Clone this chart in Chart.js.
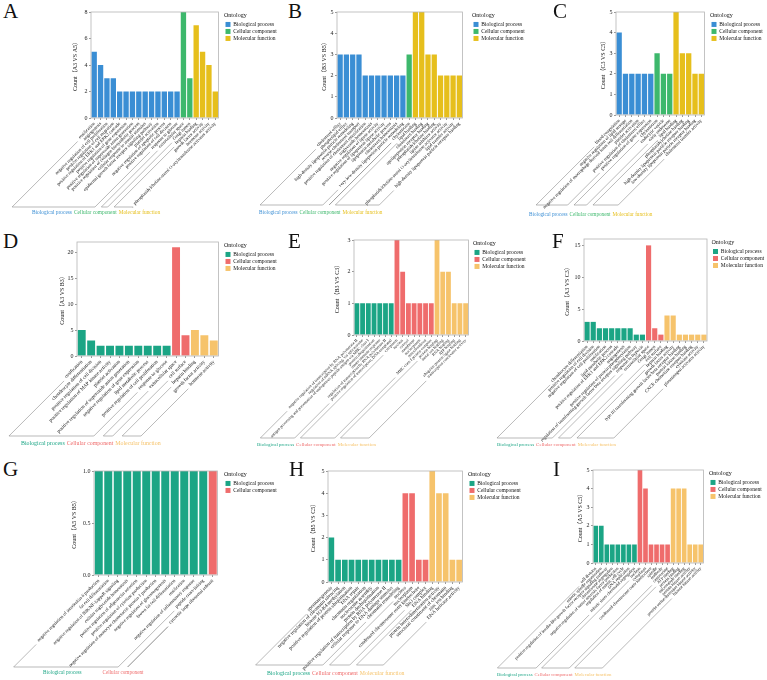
<!DOCTYPE html>
<html>
<head>
<meta charset="utf-8">
<script src="https://cdn.jsdelivr.net/npm/chart.js@4.4.1/dist/chart.umd.min.js"></script>
<style>
  body { margin: 0; background: #fff; width: 767px; height: 680px; position: relative; overflow: hidden; }
  canvas { position: absolute; }
  .tag { position: absolute; font: 21px "Liberation Serif", "Times New Roman", serif; line-height: 1; color: #111; }
</style>
</head>
<body>
<script>
// ---- data (counts) ----
const A_BP = [5, 4, 3, 3, 2, 2, 2, 2, 2, 2, 2, 2, 2, 2];
const A_CC = [8, 3];
const A_MF = [7, 5, 4, 2];
const A_BP_TERMS = ['ossification', 'angiogenesis', 'negative regulation of cell proliferation', 'positive regulation of cell migration', 'positive regulation of ERK1 and ERK2 cascade', 'positive regulation of gene expression', 'positive regulation of superoxide anion generation', 'positive regulation of collagen biosynthetic process', 'cellular response to insulin stimulus', 'epidermal growth factor receptor signaling pathway', 'platelet activation', 'negative regulation of apoptotic process', 'positive regulation of cell division', 'response to glucose'];
const A_CC_TERMS = ['extracellular space', 'Golgi lumen'];
const A_MF_TERMS = ['heparin binding', 'growth factor activity', 'hormone activity', 'phosphatidylcholine-sterol O-acyltransferase activator activity'];

const B_BP = [3, 3, 3, 3, 2, 2, 2, 2, 2, 2, 2];
const B_CC = [3];
const B_MF = [5, 5, 3, 3, 2, 2, 2, 2];
const B_BP_TERMS = ['cholesterol efflux', 'phospholipid efflux', 'high-density lipoprotein particle remodeling', 'reverse cholesterol transport', 'positive regulation of cholesterol esterification', 'triglyceride homeostasis', 'negative regulation of lipase activity', 'positive regulation of lipoprotein lipase activity', 'lipoprotein metabolic process', 'cholesterol homeostasis', 'very-low-density lipoprotein particle remodeling'];
const B_CC_TERMS = ['chylomicron'];
const B_MF_TERMS = ['lipid binding', 'cholesterol binding', 'apolipoprotein receptor binding', 'phosphatidylcholine binding', 'lipase inhibitor activity', 'phosphatidylcholine-sterol O-acyltransferase activator activity', 'lipid transfer activity', 'high-density lipoprotein particle receptor binding'];

const C_BP = [4, 2, 2, 2, 2, 2];
const C_CC = [3, 2, 2];
const C_MF = [5, 3, 3, 2, 2];
const C_BP_TERMS = ['blood coagulation', 'negative regulation of lipid storage', 'negative regulation of macrophage derived foam cell differentiation', 'platelet activation', 'positive regulation of cholesterol efflux', 'positive regulation of gene expression'];
const C_CC_TERMS = ['chylomicron', 'endocytic vesicle', 'early endosome'];
const C_MF_TERMS = ['lipid binding', 'phosphatidylcholine binding', 'high-density lipoprotein particle receptor binding', 'low-density lipoprotein particle receptor binding', 'cholesterol transfer activity'];

const D_BP = [5, 3, 2, 2, 2, 2, 2, 2, 2, 2];
const D_CC = [21, 4];
const D_MF = [5, 4, 3];
const D_BP_TERMS = ['ossification', 'chondrocyte differentiation', 'positive regulation of cell division', 'positive regulation of MAP kinase activity', 'platelet activation', 'positive regulation of superoxide anion generation', 'negative regulation of gene expression', 'lipid metabolic process', 'positive regulation of cell proliferation', 'response to glucose'];
const D_CC_TERMS = ['extracellular space', 'cell surface'];
const D_MF_TERMS = ['heparin binding', 'growth factor activity', 'hormone activity'];

const E_BP = [1, 1, 1, 1, 1, 1, 1];
const E_CC = [3, 2, 1, 1, 1, 1, 1];
const E_MF = [3, 2, 2, 1, 1, 1];
const E_BP_TERMS = ['negative regulation of transcription by RNA polymerase II', 'regulation of mRNA splicing, via spliceosome', 'antigen processing and presentation of endogenous peptide antigen via MHC class I', 'protein ubiquitination', 'innate immune response', 'regulation of transcription by RNA polymerase II', 'positive regulation of transcription, DNA-templated'];
const E_CC_TERMS = ['cytoplasm', 'nucleus', 'cytosol', 'membrane', 'nucleoplasm', 'mitochondrion', 'MHC class I protein complex'];
const E_MF_TERMS = ['protein binding', 'metal ion binding', 'RNA binding', 'ATP binding', 'ubiquitin protein ligase binding', 'transcription coactivator activity'];

const F_BP = [3, 3, 2, 2, 2, 2, 2, 2, 1, 1];
const F_CC = [15, 2, 1];
const F_MF = [4, 4, 1, 1, 1, 1, 1];
const F_BP_TERMS = ['chondrocyte differentiation', 'positive regulation of cell division', 'negative regulation of cell proliferation', 'ossification', 'lipid metabolic process', 'positive regulation of ERK1 and ERK2 cascade', 'angiogenesis', 'positive regulation of protein phosphorylation', 'regulation of transforming growth factor beta receptor signaling pathway', 'response to hypoxia'];
const F_CC_TERMS = ['extracellular space', 'Golgi lumen', 'cell surface'];
const F_MF_TERMS = ['heparin binding', 'growth factor activity', 'type III transforming growth factor beta receptor binding', 'protein kinase binding', 'CXCR chemokine receptor binding', 'cytokine activity', 'plasminogen activator activity'];

const G_BP = [1, 1, 1, 1, 1, 1, 1, 1, 1, 1, 1, 1];
const G_CC = [1];
const G_MF = [];
const G_BP_TERMS = ['negative regulation of interleukin-6 production', 'fat cell differentiation', 'negative regulation of NIK/NF-kappaB signaling', 'cellular triglyceride homeostasis', 'positive regulation of adiponectin secretion', 'positive regulation of cytokine production', 'negative regulation of monocyte chemotactic protein-1 production', 'negative regulation of gluconeogenesis', 'brown fat cell differentiation', 'ossification', 'negative regulation of inflammatory response', 'peptide cross-linking'];
const G_CC_TERMS = ['cytosolic large ribosomal subunit'];
const G_MF_TERMS = [];

const H_BP = [2, 1, 1, 1, 1, 1, 1, 1, 1, 1, 1];
const H_CC = [4, 4, 1, 1];
const H_MF = [5, 4, 4, 1, 1];
const H_BP_TERMS = ['spermatogenesis', 'negative regulation of chromatin silencing', 'histone H3-K4 methylation', 'positive regulation of protein ubiquitination', 'DNA repair', 'chromatin organization', 'nucleosome assembly', 'protein deubiquitination', 'positive regulation of transcription by RNA polymerase II', 'cellular response to DNA damage stimulus', 'chromatin remodeling'];
const H_CC_TERMS = ['nucleus', 'nucleoplasm', 'condensed chromosome outer kinetochore', 'Sin3 complex'];
const H_MF_TERMS = ['DNA binding', 'protein heterodimerization activity', 'structural constituent of chromatin', 'zinc ion binding', 'DNA helicase activity'];

const I_BP = [2, 2, 1, 1, 1, 1, 1, 1];
const I_CC = [5, 4, 1, 1, 1, 1];
const I_MF = [4, 4, 4, 1, 1, 1];
const I_BP_TERMS = ['cell division', 'mitotic spindle organization', 'positive regulation of insulin-like growth factor receptor signaling pathway', 'chromosome segregation', 'negative regulation of tumor necrosis factor production', 'regulation of mitotic cell cycle', 'DNA replication', 'mitotic sister chromatid segregation'];
const I_CC_TERMS = ['nucleus', 'cytoplasm', 'condensed chromosome outer kinetochore', 'spindle', 'midbody', 'centrosome'];
const I_MF_TERMS = ['ATP binding', 'protein binding', 'microtubule binding', 'protein kinase activity', 'protein serine/threonine kinase activity', 'histone kinase activity'];

const GROUPS = ['Biological process', 'Cellular component', 'Molecular function'];
const PAL_ABC = ['#3A8ED4', '#3DB86C', '#E6BF1C'];
const PAL_DI = ['#1BA585', '#EF6C6C', '#F6C36B'];

const FONT = '"Liberation Serif", "Times New Roman", "Noto Sans CJK SC", serif';
Chart.defaults.font.family = FONT;
Chart.defaults.color = '#222';

// ---- layout of the 9 panels (absolute page pixels); cv = [left, top, height] ----
const PANELS = [
  { tag: 'A', tagXY: [3, 0.5],   vals: [A_BP, A_CC, A_MF], terms: [A_BP_TERMS, A_CC_TERMS, A_MF_TERMS], yTitle: 'Count（A3 VS A5）', yMax: 8,  step: 2,   pal: PAL_ABC,
    cv: [0, 0, 225],     plot: { l: 91,  t: 12,  r: 219, b: 118 }, yTitleX: 75,  legX: 226, brY: 207, gx: 32,  gy: 213, xFont: 4.6, gFont: 5.4, gGap: 2 },
  { tag: 'B', tagXY: [288, 0.5], vals: [B_BP, B_CC, B_MF], terms: [B_BP_TERMS, B_CC_TERMS, B_MF_TERMS], yTitle: 'Count（B3 VS B5）', yMax: 5,  step: 1,   pal: PAL_ABC,
    cv: [250, 0, 225],   plot: { l: 337, t: 12,  r: 463, b: 118 }, yTitleX: 324, legX: 474, brY: 205, gx: 259, gy: 213, xFont: 4.6, gFont: 5.2, gGap: 2 },
  { tag: 'C', tagXY: [553, 0.5], vals: [C_BP, C_CC, C_MF], terms: [C_BP_TERMS, C_CC_TERMS, C_MF_TERMS], yTitle: 'Count（C3 VS C5）', yMax: 5,  step: 1,   pal: PAL_ABC,
    cv: [505, 0, 225],   plot: { l: 616, t: 12,  r: 705, b: 115 }, yTitleX: 603, legX: 712, brY: 205, gx: 529, gy: 215, xFont: 4.6, gFont: 5.2, gGap: 2 },
  { tag: 'D', tagXY: [3, 230.5], vals: [D_BP, D_CC, D_MF], terms: [D_BP_TERMS, D_CC_TERMS, D_MF_TERMS], yTitle: 'Count（A3 VS B3）', yMax: 22, step: 5,   pal: PAL_DI,
    cv: [0, 225, 230],   plot: { l: 77,  t: 242, r: 219, b: 356 }, yTitleX: 62,  legX: 226, brY: 436, gx: 21,  gy: 443, xFont: 5,   gFont: 5.9, gGap: 2 },
  { tag: 'E', tagXY: [288, 230.5], vals: [E_BP, E_CC, E_MF], terms: [E_BP_TERMS, E_CC_TERMS, E_MF_TERMS], yTitle: 'Count（B3 VS C3）', yMax: 3,  step: 1,   pal: PAL_DI,
    cv: [250, 225, 230], plot: { l: 354, t: 240, r: 469, b: 335 }, yTitleX: 337, legX: 475, brY: 438, gx: 257, gy: 445, xFont: 4.1, gFont: 5,   gGap: 2 },
  { tag: 'F', tagXY: [552, 230.5], vals: [F_BP, F_CC, F_MF], terms: [F_BP_TERMS, F_CC_TERMS, F_MF_TERMS], yTitle: 'Count（A3 VS C3）', yMax: 16, step: 5,   pal: PAL_DI,
    cv: [470, 225, 230], plot: { l: 584, t: 239, r: 707, b: 341 }, yTitleX: 567, legX: 713, brY: 438, gx: 497, gy: 445, xFont: 4.6, gFont: 5,   gGap: 2 },
  { tag: 'G', tagXY: [3, 458.5], vals: [G_BP, G_CC, G_MF], terms: [G_BP_TERMS, G_CC_TERMS, G_MF_TERMS], yTitle: 'Count（A5 VS B5）', yMax: 1,  step: 0.5, pal: PAL_DI,
    cv: [0, 455, 225],   plot: { l: 94,  t: 471, r: 218, b: 575 }, yTitleX: 74,  legX: 226, brY: 667, gx: 43,  gy: 673, xFont: 4.6, gFont: 5.2, gGap: 21 },
  { tag: 'H', tagXY: [289, 458.5], vals: [H_BP, H_CC, H_MF], terms: [H_BP_TERMS, H_CC_TERMS, H_MF_TERMS], yTitle: 'Count（B5 VS C5）', yMax: 5,  step: 1,   pal: PAL_DI,
    cv: [250, 455, 225], plot: { l: 328, t: 471, r: 463, b: 582 }, yTitleX: 313, legX: 470, brY: 665, gx: 267, gy: 673, xFont: 5,   gFont: 5.8, gGap: 2 },
  { tag: 'I', tagXY: [553, 458.5], vals: [I_BP, I_CC, I_MF], terms: [I_BP_TERMS, I_CC_TERMS, I_MF_TERMS], yTitle: 'Count（A5 VS C5）', yMax: 5,  step: 1,   pal: PAL_DI,
    cv: [470, 455, 225], plot: { l: 593, t: 470, r: 704, b: 563 }, yTitleX: 580, legX: 711, brY: 668, gx: 497, gy: 675, xFont: 4.3, gFont: 4.8, gGap: 2 }
];

const LEG_W = 53;      // legend box width (clamped by maxWidth, wide enough for the text)

// frame around the plot area
const framePlugin = {
  id: 'frame',
  afterDatasetsDraw(chart) {
    const a = chart.chartArea, ctx = chart.ctx;
    ctx.save();
    ctx.strokeStyle = '#b5b5b5';
    ctx.lineWidth = 0.8;
    ctx.strokeRect(a.left, a.top, a.right - a.left, a.bottom - a.top);
    ctx.restore();
  }
};

// GO-style brackets under the rotated labels + group captions
function bracketPlugin(p, ranges) {
  return {
    id: 'goBrackets',
    afterDraw(chart) {
      const ctx = chart.ctx, xs = chart.scales.x;
      const u = Math.SQRT1_2, lh = p.xFont * 1.2;
      const y0 = xs.top + 2 + 1;
      const yb = p.brY - p.cv[1];
      ctx.save();
      ctx.font = p.xFont + 'px ' + FONT;
      ctx.strokeStyle = '#8c8c8c';
      ctx.lineWidth = 0.6;
      const foot = i => {
        const ax = xs.getPixelForTick(i) + u * lh / 2, ay = y0 + u * lh / 2;
        const L = ctx.measureText(chart.data.labels[i]).width + 5;
        const t = (yb - ay) / u;
        return { x1: ax - L * u, y1: ay + L * u, x2: ax - t * u, y2: yb };
      };
      ranges.forEach(r => {
        const f1 = foot(r.a), f2 = foot(r.b);
        ctx.beginPath();
        ctx.moveTo(f1.x1, f1.y1);
        ctx.lineTo(f1.x2, f1.y2);
        ctx.lineTo(f2.x2, f2.y2);
        ctx.lineTo(f2.x1, f2.y1);
        ctx.stroke();
      });
      ctx.font = p.gFont + 'px ' + FONT;
      ctx.textBaseline = 'middle';
      let gx = p.gx - p.cv[0];
      ranges.forEach(r => {
        ctx.fillStyle = p.pal[r.g];
        ctx.fillText(GROUPS[r.g], gx, p.gy - p.cv[1]);
        gx += ctx.measureText(GROUPS[r.g]).width + p.gGap;
      });
      ctx.restore();
    }
  };
}

function drawPanel(p) {
  const [cx, cy, ch] = p.cv;
  const yLeft = p.yTitleX - 3.6;
  const legLeft = p.legX - 1.5;
  const cw = Math.min(767, legLeft + LEG_W + 3) - cx;
  const xAxisH = cy + ch - p.plot.b;

  const tag = document.createElement('div');
  tag.className = 'tag';
  tag.textContent = p.tag;
  tag.style.left = p.tagXY[0] + 'px';
  tag.style.top = p.tagXY[1] + 'px';
  document.body.appendChild(tag);

  const cvs = document.createElement('canvas');
  cvs.width = cw; cvs.height = ch;
  cvs.style.left = cx + 'px'; cvs.style.top = cy + 'px';
  document.body.appendChild(cvs);

  const labels = [].concat(...p.terms);
  const n = labels.length;
  const datasets = [], ranges = [];
  let off = 0;
  p.vals.forEach((vals, g) => {
    if (!vals.length) return;
    const data = new Array(n).fill(null);
    vals.forEach((v, k) => { data[off + k] = v; });
    datasets.push({ label: GROUPS[g], data, backgroundColor: p.pal[g], borderWidth: 0, barPercentage: 0.84, categoryPercentage: 1 });
    ranges.push({ g, a: off, b: off + vals.length - 1 });
    off += vals.length;
  });

  new Chart(cvs, {
    type: 'bar',
    data: { labels, datasets },
    plugins: [framePlugin, bracketPlugin(p, ranges)],
    options: {
      responsive: false,
      animation: false,
      events: [],
      layout: {
        padding: {
          left: yLeft - cx,
          top: p.plot.t - cy,
          right: cx + cw - legLeft - LEG_W,
          bottom: 0
        }
      },
      plugins: {
        tooltip: { enabled: false },
        legend: {
          position: 'right',
          align: 'start',
          maxWidth: LEG_W,
          title: { display: true, text: 'Ontology', position: 'start', color: '#111', font: { size: 6 }, padding: { top: 0, bottom: 1 } },
          labels: { boxWidth: 5, boxHeight: 5, padding: 1.5, color: '#111', font: { size: 5.5 } }
        }
      },
      scales: {
        x: {
          stacked: true,
          offset: true,
          border: { display: false },
          grid: { display: true, drawOnChartArea: false, offset: false, tickLength: 2, color: '#999' },
          ticks: { autoSkip: false, minRotation: 45, maxRotation: 45, padding: 1, color: '#111', font: { size: p.xFont } },
          afterFit: s => { s.height = xAxisH; s.paddingLeft = 0; s.paddingRight = 0; }
        },
        y: {
          stacked: true,
          min: 0,
          max: p.yMax,
          border: { display: false },
          grid: { drawOnChartArea: false, tickLength: 2, color: '#999' },
          ticks: {
            stepSize: p.step, includeBounds: false, padding: 1.5, color: '#222', font: { size: 6 },
            callback: v => p.step < 1 ? v.toFixed(1) : v
          },
          title: { display: true, text: p.yTitle, color: '#111', font: { size: 6 }, padding: 0 },
          afterFit: s => { s.width = p.plot.l - yLeft; s.paddingTop = 0; s.paddingBottom = 0; }
        },
        gap: {
          type: 'linear',
          position: 'right',
          display: true,
          border: { display: false },
          grid: { display: false },
          ticks: { display: false },
          afterFit: s => { s.width = legLeft - p.plot.r; }
        }
      }
    }
  });
}

PANELS.forEach(drawPanel);
</script>
</body>
</html>
